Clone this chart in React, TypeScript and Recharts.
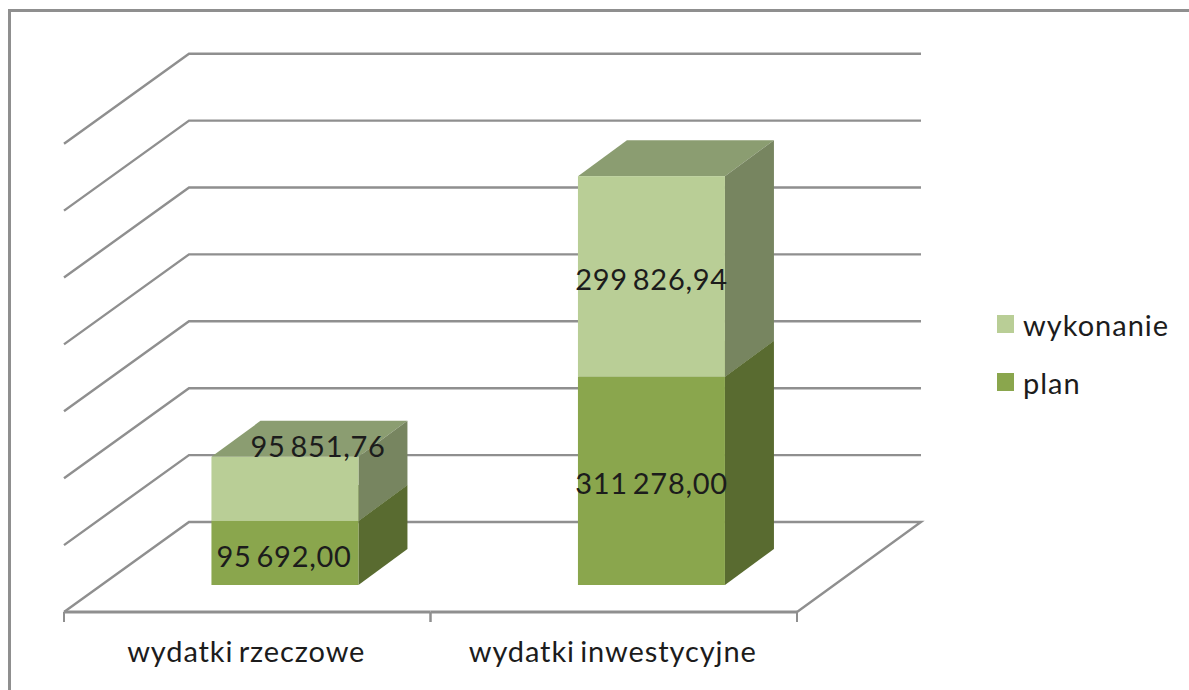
import React from "react";
import { BarChart, Bar, XAxis, YAxis, CartesianGrid, Legend, LabelList } from "recharts";

const categories = ["wydatki rzeczowe", "wydatki inwestycyjne"];
const planValues = [95692.0, 311278.0];
const wykonanieValues = [95851.76, 299826.94];
const valueTicks = [0, 100000, 200000, 300000, 400000, 500000, 600000, 700000];

const rows = categories.map((name, i) => ({ name, plan: planValues[i], wykonanie: wykonanieValues[i] }));

const FONT = "Lato, 'Open Sans', sans-serif";
const TEXT = "#1c1c1c";
const AXIS = "#8f8f8f";
const PLOT_LEFT = 101.5;
const PLOT_RIGHT = 834.5;
const PLOT_TOP = 116.7;
const PLOT_BOTTOM = 585;
const FRONT_DX = 37.5;
const FRONT_DY = 27;
const BACK_DX = 87.5;
const BACK_DY = 63;
const BAR_DX = 49;
const BAR_DY = 36;
const HALF_CAT = (PLOT_RIGHT - PLOT_LEFT) / 4;
const LEGEND_WIDTH = 190;
const textStyle = { letterSpacing: 0.7, wordSpacing: -3 };
const axisTextStyle = { letterSpacing: 0.9, wordSpacing: -3 };
const legendTextStyle = { letterSpacing: 1 };

const formatValue = (v: number) =>
  v.toFixed(2).replace(".", ",").replace(/\B(?=(\d{3})+(?!\d))/g, " ");

const makeBox = (front: string, side: string, top: string) => (props: any) => {
  const { x, y, width: w, height: h } = props;
  return (
    <g>
      <polygon points={`${x},${y} ${x + BAR_DX},${y - BAR_DY} ${x + w + BAR_DX},${y - BAR_DY} ${x + w},${y}`} fill={top} />
      <polygon points={`${x + w},${y} ${x + w + BAR_DX},${y - BAR_DY} ${x + w + BAR_DX},${y + h - BAR_DY} ${x + w},${y + h}`} fill={side} />
      <rect x={x} y={y} width={w} height={h} fill={front} />
    </g>
  );
};

const GridLine = (props: any) => {
  const { y1 } = props;
  const isFloor = Math.abs(y1 - PLOT_BOTTOM) < 1;
  const lx = PLOT_LEFT - FRONT_DX;
  const ly = y1 + FRONT_DY;
  const bx = PLOT_LEFT + BACK_DX;
  const by = y1 - BACK_DY;
  const rx = 921;
  const extra = isFloor ? ` ${PLOT_RIGHT - FRONT_DX},${ly}` : "";
  return (
    <polyline
      key={props.key}
      points={`${lx},${ly} ${bx},${by} ${rx},${by}${extra}`}
      fill="none"
      stroke={AXIS}
      strokeWidth={2.4}
    />
  );
};

const CategoryTick = (props: any) => {
  const { x, payload } = props;
  const c = x - FRONT_DX;
  const ay = PLOT_BOTTOM + FRONT_DY;
  return (
    <g>
      <line x1={c - HALF_CAT} y1={ay} x2={c + HALF_CAT} y2={ay} stroke={AXIS} strokeWidth={3} />
      <line x1={c - HALF_CAT} y1={ay} x2={c - HALF_CAT} y2={ay + 10} stroke={AXIS} strokeWidth={2} />
      <line x1={c + HALF_CAT} y1={ay} x2={c + HALF_CAT} y2={ay + 10} stroke={AXIS} strokeWidth={2} />
      <text x={c - 1} y={ay + 50} textAnchor="middle" fontFamily={FONT} fontSize={29} fill={TEXT} style={axisTextStyle}>
        {payload.value}
      </text>
    </g>
  );
};

const makeLabel = (offsets: number[][]) => (props: any) => {
  const { x, y, width, height, value, index } = props;
  const [dx, dy] = offsets[index];
  return (
    <text
      x={x + width / 2 + dx}
      y={y + height / 2 + dy}
      textAnchor="middle"
      dominantBaseline="central"
      fontFamily={FONT}
      fontSize={29}
      fill={TEXT}
      style={textStyle}
    >
      {formatValue(Number(value))}
    </text>
  );
};

const LegendBox = ({ payload }: any) => (
  <div style={{ fontFamily: FONT, fontSize: 29, color: TEXT, ...legendTextStyle }}>
    {[...(payload || [])].reverse().map((p: any) => (
      <div key={p.value} style={{ display: "flex", alignItems: "center", height: 58 }}>
        <span style={{ width: 17, height: 18, background: p.color, marginRight: 9, display: "inline-block" }} />
        <span>{p.value}</span>
      </div>
    ))}
  </div>
);

export default function App() {
  return (
    <div style={{ position: "absolute", left: 0, top: 0, width: 1189, height: 690, overflow: "hidden", background: "#fff" }}>
      <div style={{ position: "absolute", left: 8, top: 9, right: 0, bottom: 0, borderLeft: `3px solid ${AXIS}`, borderTop: `3px solid ${AXIS}` }} />
      <BarChart
        width={1189}
        height={690}
        data={rows}
        barCategoryGap="30%"
        margin={{ left: PLOT_LEFT, right: 1189 - PLOT_RIGHT - LEGEND_WIDTH, top: PLOT_TOP, bottom: 45 }}
        style={{ position: "absolute", left: 0, top: 0 }}
      >
        <CartesianGrid vertical={false} horizontal={GridLine as any} />
        <XAxis dataKey="name" height={60} axisLine={false} tickLine={false} tick={CategoryTick as any} interval={0} />
        <YAxis hide width={0} domain={[0, 700000]} ticks={valueTicks} />
        <Legend
          content={LegendBox as any}
          layout="vertical"
          align="right"
          verticalAlign="top"
          wrapperStyle={{ position: "absolute", left: 997, top: 295, width: LEGEND_WIDTH, bottom: "auto", right: "auto" }}
        />
        <Bar dataKey="plan" name="plan" stackId="a" fill="#8AA64D" isAnimationActive={false} shape={makeBox("#8AA64D", "#596B30", "#6E8440") as any}>
          <LabelList dataKey="plan" content={makeLabel([[-1, 3], [0, 2]]) as any} />
        </Bar>
        <Bar dataKey="wykonanie" name="wykonanie" stackId="a" fill="#B9CE96" isAnimationActive={false} shape={makeBox("#B9CE96", "#778560", "#8B9D71") as any}>
          <LabelList dataKey="wykonanie" content={makeLabel([[33, -43], [0, 2]]) as any} />
        </Bar>
      </BarChart>
    </div>
  );
}
